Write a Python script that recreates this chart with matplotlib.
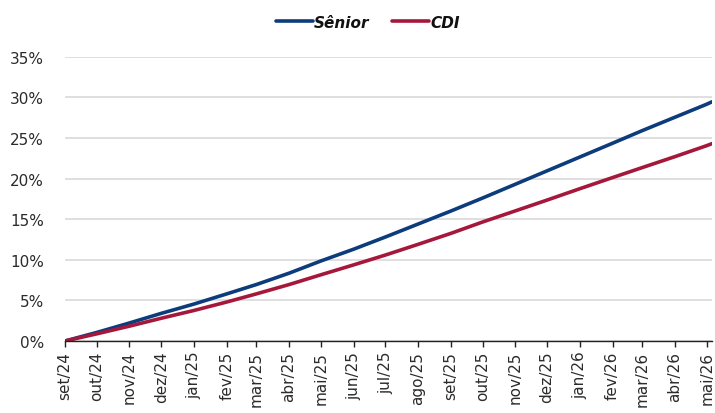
import matplotlib
matplotlib.use("Agg")
import matplotlib.pyplot as plt
import pandas as pd
from matplotlib.ticker import FuncFormatter

# ---- data ----
dates = ["2024-09-01", "2024-10-01", "2024-11-01", "2024-12-01", "2025-01-01",
         "2025-02-01", "2025-03-01", "2025-04-01", "2025-05-01", "2025-06-01",
         "2025-07-01", "2025-08-01", "2025-09-01", "2025-10-01", "2025-11-01",
         "2025-12-01", "2026-01-01", "2026-02-01", "2026-03-01", "2026-04-01",
         "2026-05-01", "2026-05-06"]
senior = [0.00, 1.05, 2.22, 3.40, 4.55, 5.80, 6.95, 8.35, 9.85, 11.30,
          12.80, 14.40, 16.00, 17.60, 19.30, 20.95, 22.65, 24.35, 25.90, 27.55,
          29.15, 29.45]
cdi = [0.00, 0.88, 1.83, 2.80, 3.76, 4.80, 5.80, 6.95, 8.15, 9.37,
       10.58, 11.90, 13.25, 14.65, 16.02, 17.35, 18.75, 20.12, 21.35, 22.70,
       24.05, 24.30]
tick_dates = ["2024-09-01", "2024-10-01", "2024-11-01", "2024-12-01", "2025-01-01",
              "2025-02-01", "2025-03-01", "2025-04-01", "2025-05-01", "2025-06-01",
              "2025-07-01", "2025-08-01", "2025-09-01", "2025-10-01", "2025-11-01",
              "2025-12-01", "2026-01-01", "2026-02-01", "2026-03-01", "2026-04-01",
              "2026-05-01"]
tick_labels = ["set/24", "out/24", "nov/24", "dez/24", "jan/25", "fev/25", "mar/25",
               "abr/25", "mai/25", "jun/25", "jul/25", "ago/25", "set/25", "out/25",
               "nov/25", "dez/25", "jan/26", "fev/26", "mar/26", "abr/26", "mai/26"]
y_ticks = [0, 5, 10, 15, 20, 25, 30, 35]

plt.rcParams['font.family'] = ['DejaVu Sans']
text_color = '#2b2b2b'

x = pd.to_datetime(dates)
xt = pd.to_datetime(tick_dates)

fig = plt.figure(figsize=(7.15, 4.14), dpi=100)
ax = fig.add_axes([65/715, 1 - 342/414, (712 - 65)/715, (342 - 57.7)/414])

ax.plot(x, senior, color='#0c3c7c', lw=2.6, label='Sênior', solid_capstyle='round')
ax.plot(x, cdi, color='#a5183b', lw=2.6, label='CDI', solid_capstyle='round')

ax.set_xlim(x[0], x[-1])
ax.set_ylim(0, 35)
ax.set_yticks(y_ticks)
ax.yaxis.set_major_formatter(FuncFormatter(lambda v, p: f"{v:.0f}%"))
ax.set_xticks(xt)
ax.set_xticklabels(tick_labels, rotation=90)

ax.grid(axis='y', color='#d9d9d9', lw=1.2)
ax.set_axisbelow(True)
for s in ['left', 'right', 'top']:
    ax.spines[s].set_visible(False)
ax.spines['bottom'].set_color('#222222')
ax.spines['bottom'].set_linewidth(1.0)
ax.tick_params(axis='y', length=0, pad=15, labelsize=11, labelcolor=text_color)
ax.tick_params(axis='x', length=4, width=1, color='#222222', labelsize=11,
               labelcolor=text_color, pad=3)

leg = fig.legend(loc='center', bbox_to_anchor=(368/715, 1 - 23/414), ncol=2, frameon=False,
                 handlelength=2.4, handletextpad=0.1, columnspacing=1.5,
                 prop={'weight': 'bold', 'style': 'italic', 'size': 11})
for t in leg.get_texts():
    t.set_color('#111111')

fig.savefig('out.png', dpi=100)
